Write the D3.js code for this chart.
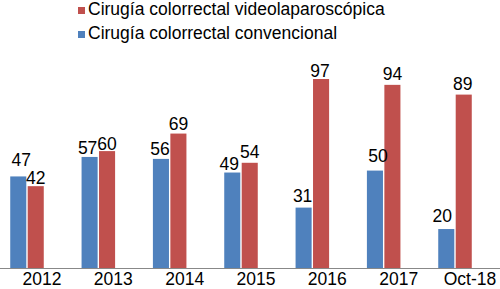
<!DOCTYPE html>
<html>
<head>
<meta charset="utf-8">
<script src="https://cdn.jsdelivr.net/npm/d3@7"></script>
<style>
  body { margin: 0; background: #fff; }
  text { font-family: "Liberation Sans", Arial, sans-serif; }
</style>
</head>
<body>
<div id="chart"></div>
<script>
const categories = ["2012", "2013", "2014", "2015", "2016", "2017", "Oct-18"];
const seriesNames = ["Cirugía colorrectal convencional", "Cirugía colorrectal videolaparoscópica"];
const convencional = [47, 57, 56, 49, 31, 50, 20];
const videolaparoscopica = [42, 60, 69, 54, 97, 94, 89];
const colors = ["#4F81BD", "#C0504D"];

// hand-placed data labels in the original: [dx, gap above bar]
const labelNudgeConv = [[3, 10], [-2, 3], [-1, 4], [-3, 3], [-1, 6], [3, 9], [-4, 7]];
const labelNudgeVideo = [[0, 2.5], [0, 1], [0, 4], [0, 5], [-1, 2], [0, 5], [-1, 5]];

const width = 500, height = 289;
const baseline = 268;

const svg = d3.select("#chart")
    .append("svg")
    .attr("width", width)
    .attr("height", height);

const data = categories.map((c, i) => ({
    cat: c,
    values: [
        { key: seriesNames[0], value: convencional[i], idx: 0, nudge: labelNudgeConv[i] },
        { key: seriesNames[1], value: videolaparoscopica[i], idx: 1, nudge: labelNudgeVideo[i] }
    ]
}));

const x0 = d3.scaleBand()
    .domain(categories)
    .range([-8.67, 490.67])
    .paddingInner(0.53)
    .paddingOuter(0.265);

const x1 = d3.scaleBand()
    .domain(seriesNames)
    .range([0, x0.bandwidth()])
    .paddingInner(0.08);

const y = d3.scaleLinear()
    .domain([0, 120])
    .range([baseline, baseline - 233.8]);

const groups = svg.selectAll("g.group")
    .data(data)
    .enter()
    .append("g")
    .attr("class", "group")
    .attr("transform", d => `translate(${x0(d.cat)},0)`);

groups.selectAll("rect")
    .data(d => d.values)
    .enter()
    .append("rect")
    .attr("x", d => x1(d.key))
    .attr("y", d => y(d.value))
    .attr("width", x1.bandwidth())
    .attr("height", d => baseline - y(d.value))
    .attr("fill", d => colors[d.idx]);

groups.selectAll("text.val")
    .data(d => d.values)
    .enter()
    .append("text")
    .attr("class", "val")
    .attr("x", d => x1(d.key) + x1.bandwidth() / 2 + d.nudge[0])
    .attr("y", d => y(d.value) - d.nudge[1])
    .attr("text-anchor", "middle")
    .attr("font-size", "17.5px")
    .attr("fill", "#000")
    .text(d => d.value);

// x axis: labels sit to the right of each group, as in the original
const xAxis = svg.append("g")
    .attr("transform", `translate(0,${baseline})`)
    .call(d3.axisBottom(x0).tickSize(0));
xAxis.select(".domain").remove();
xAxis.selectAll("text")
    .attr("x", 15)
    .attr("y", 17)
    .attr("dy", 0)
    .attr("font-size", "17.5px")
    .attr("font-family", "Liberation Sans, Arial, sans-serif")
    .attr("fill", "#000");

svg.append("line")
    .attr("x1", 0).attr("x2", width)
    .attr("y1", baseline + 0.5).attr("y2", baseline + 0.5)
    .attr("stroke", "#888")
    .attr("stroke-width", 1);

// legend (red series listed first)
const legendItems = [
    { name: seriesNames[1], color: colors[1] },
    { name: seriesNames[0], color: colors[0] }
];
const legend = svg.append("g").attr("class", "legend");
legendItems.forEach((d, i) => {
    const ly = 14.5 + i * 24;
    legend.append("rect")
        .attr("x", 78)
        .attr("y", ly - 7.5)
        .attr("width", 7)
        .attr("height", 7)
        .attr("fill", d.color);
    legend.append("text")
        .attr("x", 88)
        .attr("y", ly)
        .attr("font-size", "17.5px")
        .attr("fill", "#000")
        .text(d.name);
});
</script>
</body>
</html>
